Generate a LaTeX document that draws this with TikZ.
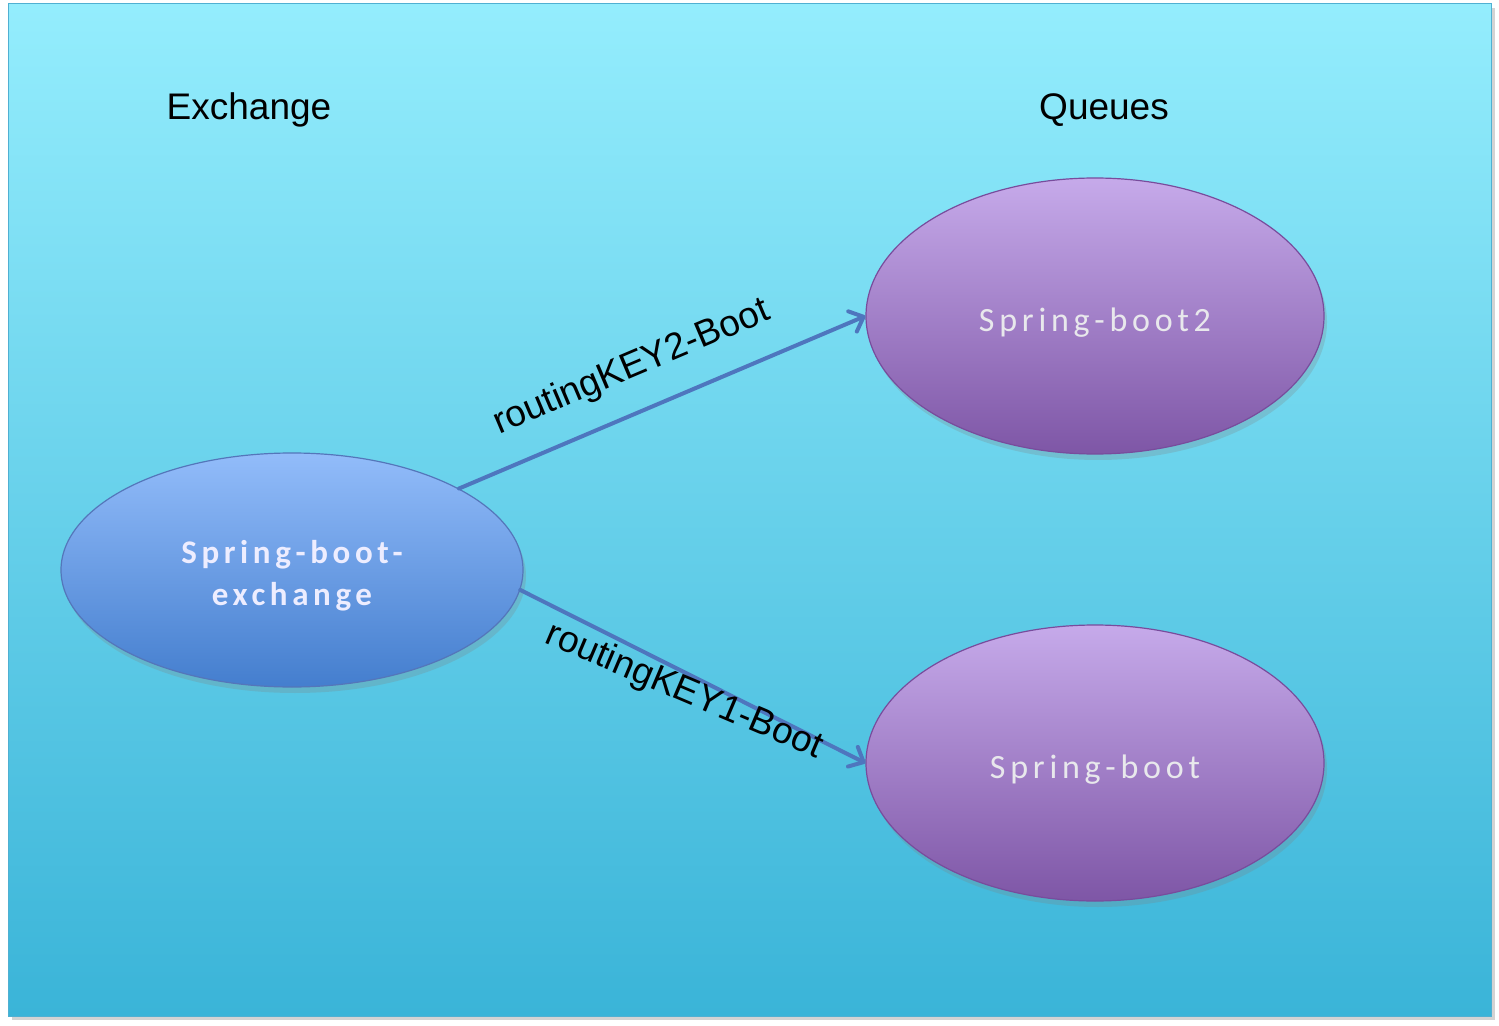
\documentclass[tikz,border=0pt]{standalone}
\usepackage{fontspec}
\setmainfont{Liberation Sans}
\newfontfamily\calfont[LetterSpace=14]{Carlito}
\usetikzlibrary{shapes.geometric,arrows.meta,shadows}
\definecolor{bgtop}{RGB}{148,237,253}
\definecolor{bgbot}{RGB}{58,180,216}
\definecolor{bltop}{RGB}{146,188,250}
\definecolor{blbot}{RGB}{68,126,206}
\definecolor{bledge}{RGB}{84,118,186}
\definecolor{putop}{RGB}{198,170,234}
\definecolor{pubot}{RGB}{126,86,166}
\definecolor{puedge}{RGB}{120,76,156}
\definecolor{arrowc}{RGB}{78,118,190}
\definecolor{silver}{RGB}{232,232,236}
\definecolor{bgedge}{RGB}{80,176,210}
\tikzset{
  exnode/.style={ellipse, draw=bledge, line width=0.6pt, top color=bltop, bottom color=blbot,
    minimum width=231pt, minimum height=117pt, inner sep=0pt, align=center,
    font=\calfont\bfseries\fontsize{16.5pt}{21pt}\selectfont, text=white!93!blue,
    drop shadow={shadow xshift=1.5pt, shadow yshift=-3pt, opacity=0.25}},
  qnode/.style={ellipse, draw=puedge, line width=0.6pt, top color=putop, bottom color=pubot,
    minimum width=229pt, minimum height=138pt, inner sep=0pt,
    font=\calfont\fontsize{17pt}{21pt}\selectfont, text=silver,
    drop shadow={shadow xshift=1.5pt, shadow yshift=-3pt, opacity=0.25}},
  title/.style={font=\fontsize{18.5pt}{22pt}\selectfont, text=black},
  keylabel/.style={font=\fontsize{18.5pt}{22pt}\selectfont, text=black, inner sep=0pt},
  link/.style={draw=arrowc, line width=2pt, line cap=round,
    -{Straight Barb[length=6pt,width=11pt,line width=2pt,round]}}
}
\begin{document}
\begin{tikzpicture}[x=0.5pt,y=-0.5pt]
\useasboundingbox (0,0) rectangle (1499,1026);
\fill[top color=bgtop, bottom color=bgbot, draw=bgedge, line width=0.5pt,
  drop shadow={shadow xshift=2pt, shadow yshift=-2pt, opacity=0.35}]
  (8,4) rectangle (1491,1016);
\node[title] (t1) at (249,110) {Exchange};
\node[title] (t2) at (1104,110) {Queues};
\node[exnode] (ex) at (292,570) {\raisebox{-3pt}[\height][\depth]{\begin{tabular}{@{}c@{}}Spring-boot-\\exchange\end{tabular}}};
\node[qnode] (q2) at (1095,316) {\raisebox{-3.5pt}[\height][\depth]{Spring-boot2}};
\node[qnode] (q1) at (1095,763) {\raisebox{-3.5pt}[\height][\depth]{Spring-boot}};
\draw[link] (ex.26.5) -- (q2.west);
\draw[link] (ex.-5) -- (q1.west);
\node[keylabel, rotate=23] (k2) at (632,368) {routingKEY2-Boot};
\node[keylabel, rotate=-23] (k1) at (684,692) {routingKEY1-Boot};
\end{tikzpicture}
\end{document}
